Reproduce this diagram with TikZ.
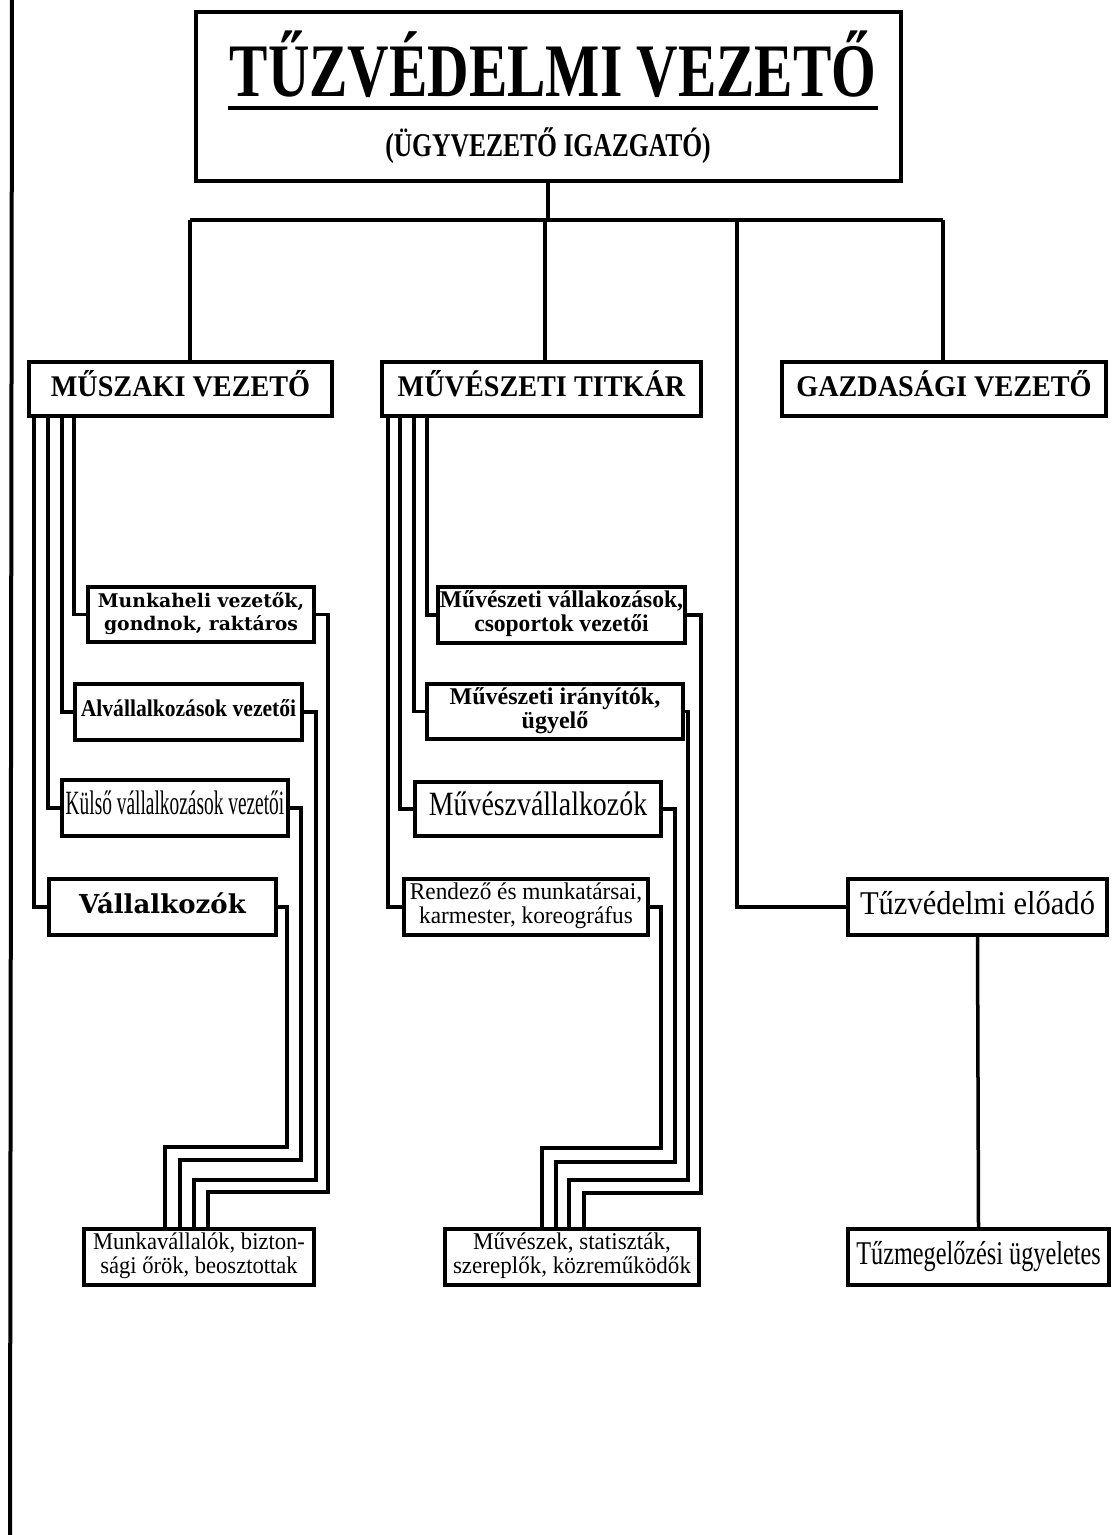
\documentclass[tikz,border=0pt]{standalone}
\usepackage{fontspec}
\setmainfont{Liberation Serif}
\newfontfamily\dvs{DejaVu Serif}
\usepackage{graphicx}
\newcommand\tx[3]{\scalebox{#1}[1]{#2\begin{tabular}{@{}c@{}}#3\end{tabular}}}
\tikzset{
  bx/.style={draw, rectangle, line width=2pt, inner sep=0pt, fill=white},
  conn/.style={line width=1.75pt},
  lbl/.style={inner sep=0pt}
}
\begin{document}
\begin{tikzpicture}[x=0.5pt, y=-0.5pt, line width=1.75pt]
\useasboundingbox (0,0) rectangle (1118,1535);
\fill[white] (0,0) rectangle (1118,1535);

% page edge line
\coordinate (bt) at (12,0);
\coordinate (bb) at (10,1535);
\draw[line width=2pt] (bt) -- (bb);

% top box
\node[bx, minimum width=352.5pt, minimum height=84.5pt] (top) at (548,96.5) {};
\node[lbl, anchor=base] (ttl) at (553,97) {\scalebox{0.76}[1]{\bfseries\fontsize{37.8}{40}\selectfont TŰZVÉDELMI VEZETŐ}};
\draw[line width=1.75pt] ([yshift=-5.5pt]ttl.base west) -- ([yshift=-5.5pt]ttl.base east);
\node[lbl, anchor=base] (sub) at (548,157) {\scalebox{0.77}[1]{\bfseries\fontsize{16.6}{18}\selectfont (ÜGYVEZETŐ IGAZGATÓ)}};

% second level
\node[bx, minimum width=151.5pt, minimum height=27pt] (mus) at (180.5,389) {\tx{0.94}{\bfseries\fontsize{15}{18}\selectfont}{MŰSZAKI VEZETŐ}};
\node[bx, minimum width=159.5pt, minimum height=27pt] (muv) at (541.5,389) {\tx{0.94}{\bfseries\fontsize{15}{18}\selectfont}{MŰVÉSZETI TITKÁR}};
\node[bx, minimum width=162pt, minimum height=27pt] (gaz) at (944,389) {\tx{0.94}{\bfseries\fontsize{15}{18}\selectfont}{GAZDASÁGI VEZETŐ}};

% left column
\node[bx, minimum width=113pt, minimum height=27.5pt] (mk) at (201,614.5) {\tx{1}{\dvs\bfseries\fontsize{9.4}{11.5}\selectfont}{Munkaheli vezetők,\\gondnok, raktáros}};
\node[bx, minimum width=113.5pt, minimum height=28pt] (alv) at (188.5,712) {\tx{0.9}{\bfseries\fontsize{12}{12}\selectfont}{Alvállalkozások vezetői}};
\node[bx, minimum width=113pt, minimum height=28pt] (kul) at (175,808) {\tx{0.57}{\fontsize{17}{17}\selectfont}{Külső vállalkozások vezetői}};
\node[bx, minimum width=113.5pt, minimum height=28pt] (val) at (162.5,907) {\tx{1}{\dvs\bfseries\fontsize{13}{13}\selectfont}{Vállalkozók}};
\node[bx, minimum width=115pt, minimum height=28pt] (mw) at (199,1257) {\tx{0.94}{\fontsize{12}{12}\selectfont}{Munkavállalók, bizton-\\sági őrök, beosztottak}};

% middle column
\node[bx, minimum width=123.5pt, minimum height=28pt] (mv1) at (561.5,615) {\tx{0.98}{\bfseries\fontsize{12}{12}\selectfont}{Művészeti vállakozások,\\csoportok vezetői}};
\node[bx, minimum width=128pt, minimum height=27.5pt] (mv2) at (555,711.5) {\tx{1}{\bfseries\fontsize{12}{12}\selectfont}{Művészeti irányítók,\\ügyelő}};
\node[bx, minimum width=123pt, minimum height=27pt] (mv3) at (538,809) {\tx{0.82}{\fontsize{17}{17}\selectfont}{Művészvállalkozók}};
\node[bx, minimum width=122pt, minimum height=28pt] (mv4) at (526,907) {\tx{0.97}{\fontsize{12}{12}\selectfont}{Rendező és munkatársai,\\karmester, koreográfus}};
\node[bx, minimum width=127pt, minimum height=28pt] (msz) at (572,1257) {\tx{0.96}{\fontsize{12}{12}\selectfont}{Művészek, statiszták,\\szereplők, közreműködők}};

% right column
\node[bx, minimum width=129.5pt, minimum height=28pt] (elo) at (977.5,907) {\tx{0.92}{\fontsize{16.6}{18}\selectfont}{Tűzvédelmi előadó}};
\node[bx, minimum width=130.5pt, minimum height=28pt] (ugy) at (978.5,1257) {\tx{0.73}{\fontsize{16.6}{18}\selectfont}{Tűzmegelőzési ügyeletes}};

% bus
\coordinate (busL) at (190,220);
\coordinate (busM) at (545,220);
\coordinate (busT) at (737,220);
\coordinate (busR) at (943,220);
\draw[conn] (top.south) -- (top.south |- busL);
\draw[conn] (busL) -- (busR);
\draw[conn] (busL) -- (busL |- mus.north);
\draw[conn] (busM) -- (busM |- muv.north);
\draw[conn] (busR) -- (busR |- gaz.north);
\draw[conn] (busT) |- (elo.west);
\draw[conn] (elo.south) -- (ugy.north);

% left column, feeders from MŰSZAKI VEZETŐ
\coordinate (la1) at (74,0);
\coordinate (la2) at (62,0);
\coordinate (la3) at (48,0);
\coordinate (la4) at (34,0);
\draw[conn] (mk.west) -| (la1 |- mus.south);
\draw[conn] (alv.west) -| (la2 |- mus.south);
\draw[conn] (kul.west) -| (la3 |- mus.south);
\draw[conn] (val.west) -| (la4 |- mus.south);

% left column, to bottom box
\coordinate (ra1) at (328,1192); \coordinate (da1) at (208,1192);
\coordinate (ra2) at (316,1180); \coordinate (da2) at (194,1180);
\coordinate (ra3) at (301,1160); \coordinate (da3) at (180,1160);
\coordinate (ra4) at (287,1147); \coordinate (da4) at (165,1147);
\draw[conn] (mk.east) -| (ra1) -- (da1) -- (da1 |- mw.north);
\draw[conn] (alv.east) -| (ra2) -- (da2) -- (da2 |- mw.north);
\draw[conn] (kul.east) -| (ra3) -- (da3) -- (da3 |- mw.north);
\draw[conn] (val.east) -| (ra4) -- (da4) -- (da4 |- mw.north);

% middle column, feeders from MŰVÉSZETI TITKÁR
\coordinate (lb1) at (427,0);
\coordinate (lb2) at (414,0);
\coordinate (lb3) at (400,0);
\coordinate (lb4) at (388,0);
\draw[conn] (mv1.west) -| (lb1 |- muv.south);
\draw[conn] (mv2.west) -| (lb2 |- muv.south);
\draw[conn] (mv3.west) -| (lb3 |- muv.south);
\draw[conn] (mv4.west) -| (lb4 |- muv.south);

% middle column, to bottom box
\coordinate (rb1) at (701,1193); \coordinate (db1) at (584,1193);
\coordinate (rb2) at (688,1180); \coordinate (db2) at (569,1180);
\coordinate (rb3) at (675,1162); \coordinate (db3) at (556,1162);
\coordinate (rb4) at (661,1148); \coordinate (db4) at (542,1148);
\draw[conn] (mv1.east) -| (rb1) -- (db1) -- (db1 |- msz.north);
\draw[conn] (mv2.east) -| (rb2) -- (db2) -- (db2 |- msz.north);
\draw[conn] (mv3.east) -| (rb3) -- (db3) -- (db3 |- msz.north);
\draw[conn] (mv4.east) -| (rb4) -- (db4) -- (db4 |- msz.north);
\end{tikzpicture}
\end{document}
